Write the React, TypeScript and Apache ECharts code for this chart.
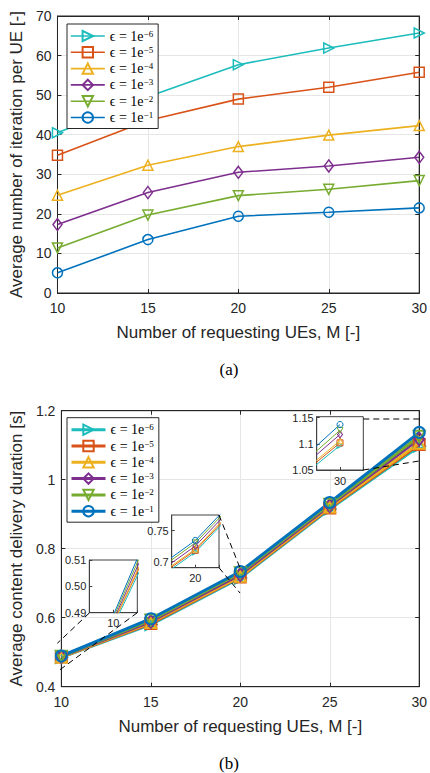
import React, { useEffect, useRef } from 'react';
import * as echarts from 'echarts';

const mValues = [10, 15, 20, 25, 30];
const xTicks = { min: 10, max: 30, interval: 5 };
const epsExponents = ['−6', '−5', '−4', '−3', '−2', '−1'];
const seriesNames = epsExponents.map((e) => `ϵ = 1e${e}`);
const colors = ['#1cbcbc', '#d95319', '#edb120', '#7e2f8e', '#77ac30', '#0072bd'];

// (a) average number of iterations per UE
const iterE6 = [40.5, 49.6, 57.7, 61.9, 65.7];
const iterE5 = [34.8, 43.6, 49.0, 52.0, 55.8];
const iterE4 = [24.7, 32.3, 37.0, 39.9, 42.3];
const iterE3 = [17.3, 25.4, 30.5, 32.1, 34.3];
const iterE2 = [11.4, 19.7, 24.6, 26.2, 28.4];
const iterE1 = [5.1, 13.5, 19.4, 20.4, 21.5];
const iterations = [iterE6, iterE5, iterE4, iterE3, iterE2, iterE1];

// (b) average content delivery duration [s]
const durE6 = [0.485, 0.58, 0.715, 0.915, 1.097];
const durE5 = [0.486, 0.583, 0.718, 0.918, 1.102];
const durE4 = [0.486, 0.586, 0.72, 0.921, 1.106];
const durE3 = [0.487, 0.589, 0.725, 0.925, 1.118];
const durE2 = [0.488, 0.593, 0.73, 0.929, 1.126];
const durE1 = [0.489, 0.597, 0.734, 0.934, 1.137];
const durations = [durE6, durE5, durE4, durE3, durE2, durE1];

const markers = [
  { symbol: 'triangle', rotate: -90 },
  { symbol: 'rect', rotate: 0 },
  { symbol: 'triangle', rotate: 0 },
  { symbol: 'diamond', rotate: 0 },
  { symbol: 'triangle', rotate: 180 },
  { symbol: 'circle', rotate: 0 },
];

const SANS = 'Liberation Sans, Arial, sans-serif';
const SERIF = 'Liberation Serif, DejaVu Serif, serif';
const AX = '#262626';
const GRIDC = '#e6e6e6';

function legendFormatter(name: string) {
  const idx = seriesNames.indexOf(name);
  return `{a|ϵ = 1e}{b|${epsExponents[idx]}}`;
}

function makeLegend(top: number, lineWidth: number) {
  return {
    orient: 'vertical',
    left: 67,
    top,
    padding: [5, 5, 4, 3],
    itemGap: 2.3,
    itemWidth: 34,
    itemHeight: 13,
    borderColor: AX,
    borderWidth: 1,
    borderRadius: 0,
    backgroundColor: '#fff',
    data: seriesNames,
    lineStyle: { width: lineWidth },
    formatter: legendFormatter,
    textStyle: {
      color: '#000',
      rich: {
        a: { fontFamily: SERIF, fontSize: 14, lineHeight: 14, color: '#000' },
        b: { fontFamily: SERIF, fontSize: 9, lineHeight: 8, verticalAlign: 'top', color: '#000' },
      },
    },
    z: 20,
  };
}

function mainAxes(gridIndex: number, yMin: number, yMax: number, yInt: number, yName: string) {
  const xMain = {
    gridIndex,
    type: 'value',
    ...xTicks,
    axisLine: { show: true, onZero: false, lineStyle: { color: AX, width: 1 } },
    axisTick: { show: true, inside: true, length: 4, lineStyle: { color: AX } },
    splitLine: { show: true, lineStyle: { color: GRIDC, width: 1 } },
    axisLabel: { fontSize: 14, fontFamily: SANS, color: AX, margin: 8 },
    name: 'Number of requesting UEs, M [-]',
    nameLocation: 'middle',
    nameGap: 31,
    nameTextStyle: { fontSize: 17, fontFamily: SANS, color: AX },
  };
  const xTop = {
    gridIndex,
    type: 'value',
    position: 'top',
    ...xTicks,
    axisLine: { show: true, onZero: false, lineStyle: { color: AX, width: 1 } },
    axisTick: { show: true, inside: true, length: 4, lineStyle: { color: AX } },
    splitLine: { show: false },
    axisLabel: { show: false },
  };
  const yMain = {
    gridIndex,
    type: 'value',
    min: yMin,
    max: yMax,
    interval: yInt,
    axisLine: { show: true, onZero: false, lineStyle: { color: AX, width: 1 } },
    axisTick: { show: true, inside: true, length: 4, lineStyle: { color: AX } },
    splitLine: { show: true, lineStyle: { color: GRIDC, width: 1 } },
    axisLabel: { fontSize: 14, fontFamily: SANS, color: AX, margin: 6 },
    name: yName,
    nameLocation: 'middle',
    nameGap: 22,
    nameTextStyle: { fontSize: 17, fontFamily: SANS, color: AX },
  };
  const yRight = {
    gridIndex,
    type: 'value',
    position: 'right',
    min: yMin,
    max: yMax,
    interval: yInt,
    axisLine: { show: true, onZero: false, lineStyle: { color: AX, width: 1 } },
    axisTick: { show: true, inside: true, length: 4, lineStyle: { color: AX } },
    splitLine: { show: false },
    axisLabel: { show: false },
  };
  return { x: [xMain, xTop], y: [yMain, yRight] };
}

function insetAxes(gridIndex: number, center: number, yMin: number, yMax: number, yLabels: number[], yFmt: (v: number) => string) {
  const INC = '#404040';
  return {
    x: {
      gridIndex,
      type: 'value',
      min: center - 1,
      max: center + 1,
      interval: 1,
      z: 8,
      axisLine: { show: true, onZero: false, lineStyle: { color: INC, width: 1 } },
      axisTick: { show: true, inside: true, length: 3, lineStyle: { color: INC } },
      splitLine: { show: false },
      axisLabel: {
        fontSize: 11,
        fontFamily: SANS,
        color: AX,
        margin: 5,
        formatter: (v: number) => (v === center ? String(center) : ''),
      },
    },
    y: {
      gridIndex,
      type: 'value',
      min: yMin,
      max: yMax,
      z: 8,
      axisLine: { show: true, onZero: false, lineStyle: { color: INC, width: 1 } },
      axisTick: { show: true, inside: true, length: 3, lineStyle: { color: INC }, customValues: yLabels },
      splitLine: { show: false },
      axisLabel: { fontSize: 11, fontFamily: SANS, color: AX, margin: 3, customValues: yLabels, formatter: yFmt },
    },
  };
}

export default function App() {
  const ref = useRef<HTMLDivElement>(null);

  useEffect(() => {
    if (!ref.current) return;
    const chart = echarts.init(ref.current, undefined, { renderer: 'svg' });

    const top = mainAxes(0, 0, 70, 10, 'Average number of iteration per UE [-]');
    const bot = mainAxes(1, 0.4, 1.2, 0.2, 'Average content delivery duration [s]');
    const in1 = insetAxes(2, 10, 0.49, 0.51, [0.49, 0.5, 0.51], (v) => v.toFixed(2));
    const in2 = insetAxes(3, 20, 0.69, 0.775, [0.7, 0.75], (v) => String(v));
    const in3 = insetAxes(4, 30, 1.05, 1.152, [1.05, 1.1, 1.15], (v) => String(v));

    const series: any[] = [];
    // top chart
    iterations.forEach((arr, i) => {
      series.push({
        name: seriesNames[i],
        type: 'line',
        xAxisIndex: 0,
        yAxisIndex: 0,
        data: mValues.map((m, k) => [m, arr[k]]),
        symbol: markers[i].symbol,
        symbolRotate: markers[i].rotate,
        symbolSize: i === 3 ? [9, 12] : 10,
        lineStyle: { color: colors[i], width: 1.6 },
        itemStyle: { color: 'rgba(255,255,255,0)', borderColor: colors[i], borderWidth: 1.5 },
        z: 2,
      });
    });
    // bottom chart main
    durations.forEach((arr, i) => {
      series.push({
        name: seriesNames[i],
        type: 'line',
        xAxisIndex: 2,
        yAxisIndex: 2,
        data: mValues.map((m, k) => [m, arr[k]]),
        symbol: markers[i].symbol,
        symbolRotate: markers[i].rotate,
        symbolSize: i === 3 ? [10, 13] : 11,
        lineStyle: { color: colors[i], width: 3 },
        itemStyle: { color: 'rgba(255,255,255,0)', borderColor: colors[i], borderWidth: 2 },
        z: 2,
      });
    });
    // insets
    [4, 5, 6].forEach((ai) => {
      durations.forEach((arr, i) => {
        series.push({
          name: seriesNames[i],
          type: 'line',
          xAxisIndex: ai,
          yAxisIndex: ai,
          data: mValues.map((m, k) => [m, arr[k]]),
          symbol: markers[i].symbol,
          symbolRotate: markers[i].rotate,
          symbolSize: i === 3 ? [5, 7] : 6,
          clip: true,
          lineStyle: { color: colors[i], width: 1 },
          itemStyle: { color: 'rgba(255,255,255,0)', borderColor: colors[i], borderWidth: 1 },
          z: 9,
        });
      });
    });

    const dash = (x1: number, y1: number, x2: number, y2: number) => ({
      type: 'line',
      shape: { x1, y1, x2, y2 },
      style: { stroke: '#000', lineWidth: 1, lineDash: [6, 4] },
      z: 10,
    });
    const caption = (t: string, y: number) => ({
      type: 'text',
      x: 229,
      y,
      style: {
        text: t,
        font: `17px ${SERIF}`,
        fill: '#000',
        textAlign: 'center',
        textVerticalAlign: 'middle',
        align: 'center',
        verticalAlign: 'middle',
      },
    });

    chart.setOption({
      animation: false,
      backgroundColor: '#fff',
      grid: [
        { left: 57, top: 16, width: 364, height: 277, show: true, borderColor: AX, borderWidth: 1, backgroundColor: 'rgba(0,0,0,0)' },
        { left: 57, top: 410.7, width: 364, height: 276, show: true, borderColor: AX, borderWidth: 1, backgroundColor: 'rgba(0,0,0,0)' },
        { left: 89.3, top: 560, width: 48, height: 52.7, show: true, borderColor: '#404040', borderWidth: 1, backgroundColor: '#fff', z: 6 },
        { left: 171.7, top: 515, width: 47.3, height: 52.7, show: true, borderColor: '#404040', borderWidth: 1, backgroundColor: '#fff', z: 6 },
        { left: 316.7, top: 416.7, width: 46.6, height: 53.3, show: true, borderColor: '#404040', borderWidth: 1, backgroundColor: '#fff', z: 6 },
      ],
      xAxis: [...top.x, ...bot.x, in1.x, in2.x, in3.x],
      yAxis: [...top.y, ...bot.y, in1.y, in2.y, in3.y],
      legend: [makeLegend(24, 1.6), makeLegend(417.7, 3)],
      series,
      graphic: [
        dash(89.3, 613, 57.3, 643.3),
        dash(137.3, 612.7, 57.3, 671.7),
        dash(219, 515, 240, 568),
        dash(219, 567.7, 240, 593),
        dash(363.3, 419, 421, 419),
        dash(363.3, 470, 421, 460.7),
        caption('(a)', 369),
        caption('(b)', 763),
      ],
    });

    return () => chart.dispose();
  }, []);

  return (
    <div
      ref={ref}
      style={{ position: 'fixed', left: 0, top: 0, width: 430, height: 773, background: '#fff' }}
    />
  );
}
